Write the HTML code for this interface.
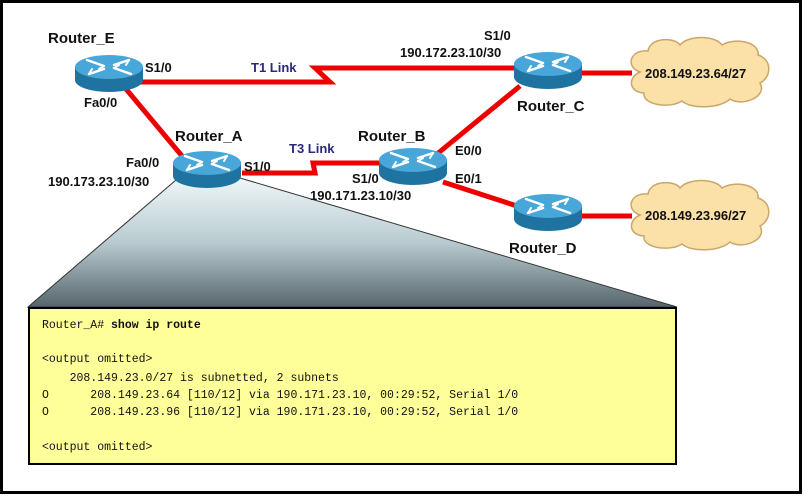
<!DOCTYPE html>
<html><head><style>
body{margin:0;background:#fff}
svg text{font-family:"Liberation Sans",Arial,sans-serif;font-weight:bold}
svg text.m{font-family:"Liberation Mono","Courier New",monospace;font-size:11.5px;fill:#111;font-weight:normal}
</style></head><body>
<svg width="804" height="496" viewBox="0 0 804 496" xmlns="http://www.w3.org/2000/svg">
<defs>
<linearGradient id="tr" x1="0" y1="0" x2="0" y2="1">
<stop offset="0" stop-color="#eef6f8"/><stop offset="0.5" stop-color="#b9cbd0"/><stop offset="1" stop-color="#56666c"/>
</linearGradient>
<g id="rt">
<path d="M-34,0 v13 a34,12 0 0 0 68,0 v-13 z" fill="#1f73a0"/>
<ellipse cx="0" cy="0" rx="34" ry="12" fill="#49a6d8"/>
<g stroke="#fff" stroke-width="2.5" fill="none" stroke-linecap="round">
<path d="M-22,-7 L-5,-1 M22,7 L5,1 M-20,7 L-5,2 M20,-7 L5,-2"/>
<path d="M-5,-1 l-5,3 M5,1 l5,-3 M-20,7 l3,-5 M20,-7 l-3,5" stroke-width="2"/>
</g>
</g>
<path id="cl" d="M10,35 C-5,30 0,12 18,14 C20,0 45,0 50,8 C58,-2 85,-2 92,8 C105,0 130,5 128,18 C142,22 142,40 130,46 C138,60 112,70 100,62 C90,72 60,72 52,64 C40,72 12,68 14,56 C-2,55 -2,40 10,35 Z" fill="#fbe0a8" stroke="#c9a66a" stroke-width="1.5"/>
</defs>
<rect x="1.5" y="1.5" width="799" height="491" fill="#fff" stroke="#000" stroke-width="3"/>
<polygon points="176,180 240,178 677,307 28,307" fill="url(#tr)" stroke="#333" stroke-width="1"/>
<g stroke="#e00" stroke-width="5" fill="none">
<polyline points="140,82 330,82 315,68 515,68"/>
<line x1="126" y1="89" x2="182" y2="156"/>
<polyline points="242,173 315,173 313,163 380,163"/>
<line x1="437" y1="154" x2="520" y2="86"/>
<line x1="443" y1="182" x2="520" y2="207"/>
<line x1="580" y1="73" x2="632" y2="73"/>
<line x1="580" y1="216" x2="632" y2="216"/>
</g>
<use href="#rt" x="109" y="67"/>
<use href="#rt" x="207" y="163"/>
<use href="#rt" x="413" y="160"/>
<use href="#rt" x="548" y="64"/>
<use href="#rt" x="548" y="206"/>
<use href="#cl" x="630" y="37"/>
<use href="#cl" x="630" y="180"/>
<g font-size="13" fill="#111">
<text x="48" y="43" font-size="15">Router_E</text>
<text x="145" y="72">S1/0</text>
<text x="84" y="107">Fa0/0</text>
<text x="175" y="141" font-size="15">Router_A</text>
<text x="126" y="167">Fa0/0</text>
<text x="48" y="186">190.173.23.10/30</text>
<text x="244" y="171">S1/0</text>
<text x="358" y="141" font-size="15">Router_B</text>
<text x="352" y="183">S1/0</text>
<text x="310" y="200">190.171.23.10/30</text>
<text x="455" y="155">E0/0</text>
<text x="455" y="183">E0/1</text>
<text x="484" y="40">S1/0</text>
<text x="400" y="57">190.172.23.10/30</text>
<text x="517" y="111" font-size="15">Router_C</text>
<text x="509" y="253" font-size="15">Router_D</text>
<text x="645" y="78">208.149.23.64/27</text>
<text x="645" y="220">208.149.23.96/27</text>
<text x="251" y="72" fill="#2a2a7a">T1 Link</text>
<text x="289" y="153" fill="#2a2a7a">T3 Link</text>
</g>
<rect x="29" y="308" width="647" height="156" fill="#ffff99" stroke="#000" stroke-width="2"/>
<text class="m" x="42" y="328">Router_A# <tspan font-weight="bold">show ip route</tspan></text>
<text class="m" x="42" y="362">&lt;output omitted&gt;</text>
<text class="m" x="42" y="381" xml:space="preserve">    208.149.23.0/27 is subnetted, 2 subnets</text>
<text class="m" x="42" y="398" xml:space="preserve">O      208.149.23.64 [110/12] via 190.171.23.10, 00:29:52, Serial 1/0</text>
<text class="m" x="42" y="415" xml:space="preserve">O      208.149.23.96 [110/12] via 190.171.23.10, 00:29:52, Serial 1/0</text>
<text class="m" x="42" y="450">&lt;output omitted&gt;</text>
</svg>
</body></html>
